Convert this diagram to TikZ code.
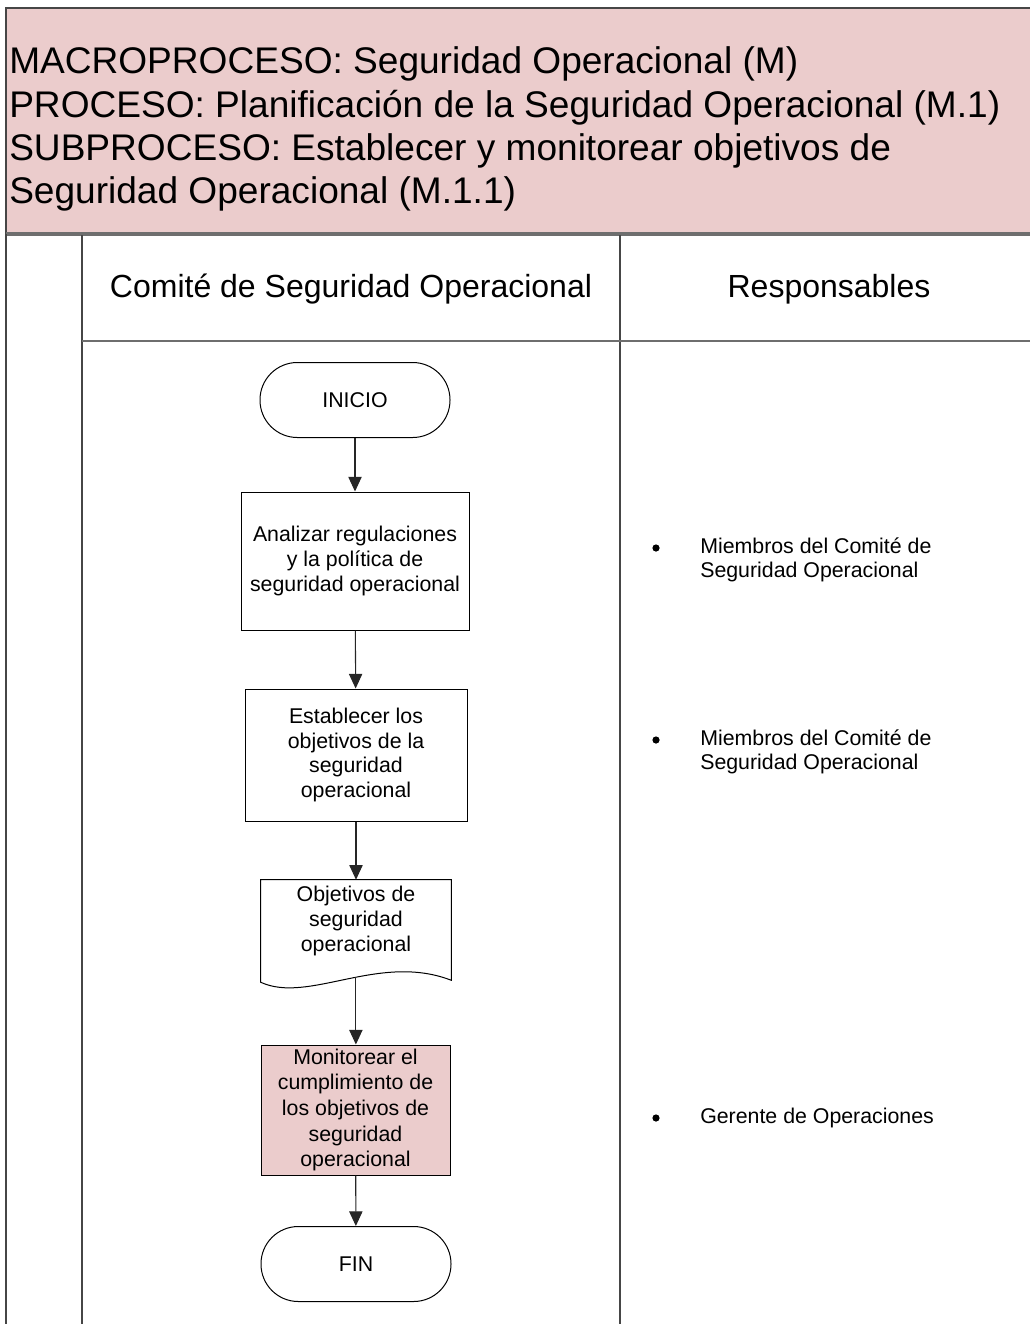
\documentclass[tikz,border=0pt]{standalone}
\usepackage{fontspec}
\setmainfont{Liberation Sans}
\usetikzlibrary{arrows.meta,calc}
\definecolor{headpink}{RGB}{235,204,204}
\definecolor{lanegray}{RGB}{70,70,70}
\definecolor{rulegray}{RGB}{110,110,110}
\begin{document}
\begin{tikzpicture}[x=0.75pt,y=-0.75pt,
  flowline/.style={draw=black!85, line width=0.8pt, -{Triangle[width=10pt,length=11pt]}},
  procbox/.style={draw=black, line width=0.75pt, fill=white, align=center,
    font=\fontsize{16}{18.6}\selectfont, inner sep=2pt},
  terminal/.style={procbox, rounded corners=28pt, minimum width=142.5pt, minimum height=56.25pt},
  lanetitle/.style={font=\fontsize{24}{28}\selectfont, inner sep=0pt},
  item/.style={align=left, anchor=west, inner sep=0pt, font=\fontsize{16}{18}\selectfont},
  dot/.style={circle, fill=black, inner sep=0pt, minimum size=5.4pt},
  laneline/.style={draw=lanegray, line width=1.2pt}
]
\useasboundingbox (0,0) rectangle (1030,1324);

% title block
\fill[headpink] (6,8) rectangle (1040,234);
\draw[lanegray, line width=1pt] (1040,8) -- (6,8) -- (6,234);
\draw[rulegray, line width=2.4pt] (6,234) -- (1040,234);
\node[anchor=west, align=left, inner sep=0pt,
      font=\fontsize{27.8}{32.3}\selectfont] (title) at (9,129)
  {MACROPROCESO: Seguridad Operacional (M)\\
   PROCESO: Planificación de la Seguridad Operacional (M.1)\\
   SUBPROCESO: Establecer y monitorear objetivos de\\
   Seguridad Operacional (M.1.1)};

% swimlane grid
\draw[laneline] (6,234) -- (6,1330);
\draw[laneline] (82,235) -- (82,1330);
\draw[laneline] (620,235) -- (620,1330);
\draw[rulegray, line width=1.6pt] (82,341) -- (1040,341);

\node[lanetitle] (lane1) at (351,289) {Comité de Seguridad Operacional};
\node[lanetitle] (lane2) at (829,289) {Responsables};

% flow
\node[terminal] (inicio) at (355,400) {INICIO};
\node[procbox, minimum width=171pt, minimum height=103.5pt] (analizar) at (355,561)
  {Analizar regulaciones\\ y la política de\\ seguridad operacional};
\node[procbox, minimum width=166.5pt, minimum height=99pt] (establecer) at (356,755)
  {Establecer los\\ objetivos de la\\ seguridad\\ operacional};
\node[minimum width=142.5pt, minimum height=76.5pt, inner sep=0pt] (doc) at (356,931) {};
\draw[black, line width=0.75pt, fill=white]
  (doc.north west) -- (doc.south west)
  .. controls ($(doc.south west)+(48,22)$) and ($(doc.south east)+(-72,-30)$) ..
     coordinate[pos=0.545] (docbottom) ($(doc.south east)+(0,-2)$)
  -- (doc.north east) -- cycle;
\node[align=center, inner sep=0pt, font=\fontsize{16}{18.6}\selectfont] (doctext) at (356,921)
  {Objetivos de\\ seguridad\\ operacional};
\node[procbox, fill=headpink, minimum width=141.75pt, minimum height=97.5pt, inner sep=1pt,
      font=\fontsize{16}{19.2}\selectfont] (monitorear) at (355.5,1110)
  {Monitorear el\\ cumplimiento de\\ los objetivos de\\ seguridad\\ operacional};
\node[terminal] (fin) at (356,1264) {FIN};

\draw[flowline] (inicio) -- (analizar);
\draw[flowline] (analizar) -- (establecer);
\draw[flowline] (establecer) -- (doc.north);
\draw[flowline] (docbottom) -- (docbottom |- monitorear.north);
\draw[flowline] (monitorear) -- (fin);

% responsibles
\node[dot] (b1) at (656,548) {};
\node[item] (r1) at (700,560) {Miembros del Comité de\\Seguridad Operacional};
\node[dot] (b2) at (656,740) {};
\node[item] (r2) at (700,752) {Miembros del Comité de\\Seguridad Operacional};
\node[dot] (b3) at (656,1118) {};
\node[item] (r3) at (700,1118) {Gerente de Operaciones};
\end{tikzpicture}
\end{document}
